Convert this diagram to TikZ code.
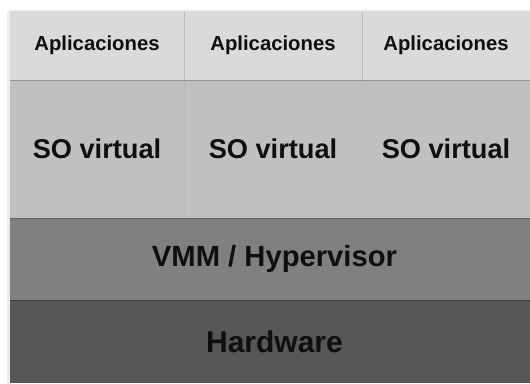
\documentclass[tikz,border=0pt]{standalone}
\usepackage{fontspec}
\setmainfont{Liberation Sans}
\usepackage{tikz}

\definecolor{appgray}{HTML}{DADADA}
\definecolor{sogray}{HTML}{C0C0C0}
\definecolor{vmmgray}{HTML}{808080}
\definecolor{hwgray}{HTML}{575757}

\begin{document}
\begin{tikzpicture}[x=1pt, y=1pt,
        layer/.style = {inner sep=0pt, outer sep=0pt, text=black!94},
        app/.style = {layer, fill=appgray, minimum width=174pt, minimum height=69pt,
                      font=\bfseries\fontsize{20.3}{22}\selectfont},
        sovm/.style = {layer, fill=sogray, minimum width=174pt, minimum height=138pt,
                       font=\bfseries\fontsize{27.2}{29}\selectfont},
        base/.style = {layer, minimum width=520pt},
        divider/.style = {draw=black!27, line width=1pt},
        edge/.style = {line width=1.5pt}
    ]
        \useasboundingbox (0,0) rectangle (530,383);
        \fill[white] (0,0) rectangle (530,383);
        % soft shadow on the left
        \fill[black!8] (7,0) rectangle (10,372);
        \fill[black!4] (10,372) rectangle (530,374);

        \node[base, fill=hwgray, minimum height=83pt,
              font=\bfseries\fontsize{30}{32}\selectfont] (hw) at (270,41.5) {\hspace*{9pt}Hardware};
        \node[base, fill=vmmgray, minimum height=82pt,
              font=\bfseries\fontsize{29.2}{31}\selectfont] (vmm) at (270,124) {\hspace*{9pt}VMM / Hypervisor};

        \node[sovm] (so1) at (97,234) {SO virtual};
        \node[sovm, minimum width=178pt] (so2) at (273,234) {SO virtual};
        \node[sovm, minimum width=168pt] (so3) at (446,234) {SO virtual};

        \node[app] (app1) at (97,337.5) {Aplicaciones};
        \node[app, minimum width=178pt] (app2) at (273,337.5) {Aplicaciones};
        \node[app, minimum width=168pt] (app3) at (446,337.5) {Aplicaciones};

        % column borders
        \draw[divider] (app1.north east) -- (so1.south east);
        \draw[divider] (app2.north east) -- (so2.south east);

        % darker edges on top of each row
        \draw[edge, draw=black!42] ([yshift=-0.75pt]so1.north west) -- ([yshift=-0.75pt]so3.north east);
        \draw[edge, draw=black!62] ([yshift=-0.75pt]vmm.north west) -- ([yshift=-0.75pt]vmm.north east);
        \draw[edge, draw=black!76] ([yshift=-0.75pt]hw.north west) -- ([yshift=-0.75pt]hw.north east);
    \end{tikzpicture}
\end{document}
